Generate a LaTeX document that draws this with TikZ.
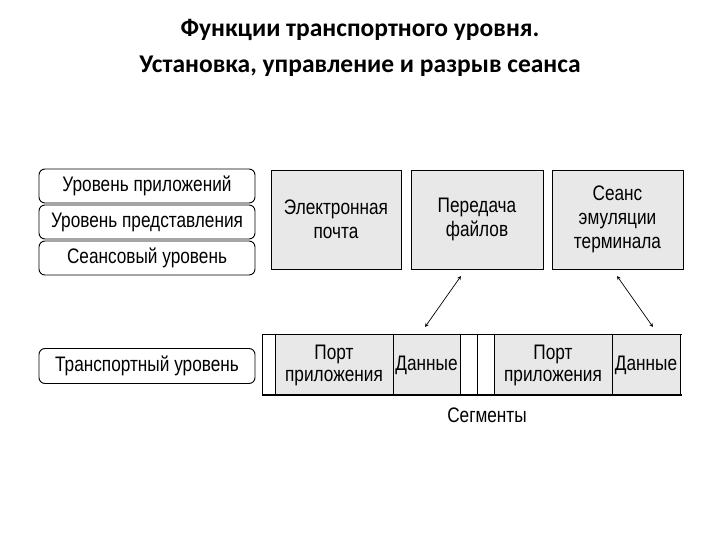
\documentclass[tikz,border=0pt]{standalone}
\usepackage{fontspec}
\setmainfont{Liberation Sans}[FakeStretch=0.82]
\newfontfamily\titlefont{Carlito}
\begin{document}
\begin{tikzpicture}[x=1pt,y=-1pt,
  lay/.style={draw,rounded corners=6pt,line width=0.9pt,minimum width=216pt,font=\fontsize{21}{23}\selectfont,inner sep=0pt},
  app/.style={draw,fill=gray!18,line width=0.9pt,minimum width=130pt,minimum height=99pt,font=\fontsize{21}{24}\selectfont,align=center,inner sep=0pt},
  cell/.style={font=\fontsize{21}{22}\selectfont,align=center,inner sep=0pt},
  arr/.style={<->,>=stealth,line width=0.7pt}]
\useasboundingbox (0,0) rectangle (720,540);
\node[font=\titlefont\bfseries\fontsize{25.5}{28}\selectfont] (t1) at (360,30) {Функции транспортного уровня.};
\node[font=\titlefont\bfseries\fontsize{25.5}{28}\selectfont] (t2) at (360,66) {Установка, управление и разрыв сеанса};
\node[lay,minimum height=34pt] (l1) at (147,186) {Уровень приложений};
\node[lay,minimum height=34pt] (l2) at (147,222) {Уровень представления};
\node[lay,minimum height=34pt] (l3) at (147,258) {Сеансовый уровень};
\node[lay,minimum height=35pt] (l4) at (147,366) {Транспортный уровень};
\node[app] (a1) at (336,219.5) {Электронная\\почта};
\node[app,minimum width=132pt] (a2) at (477,219.5) {Передача\\файлов};
\node[app,minimum width=131pt] (a3) at (617.5,219.5) {Сеанс\\эмуляции\\терминала};
\fill[gray!18] (275,334) rectangle (460,395);
\fill[gray!18] (494,334) rectangle (680,395);
\draw[line width=0.8pt] (262,334) -- (682,334);
\draw[line width=1.8pt] (262,395) -- (682,395);
\foreach \x in {262,275,393,460,477,494,612,680} \draw[line width=0.8pt] (\x,334) -- (\x,395);
\node[cell] (p1) at (334,365) {Порт\\приложения};
\node[cell] (d1) at (426.5,365) {Данные};
\node[cell] (p2) at (553,365) {Порт\\приложения};
\node[cell] (d2) at (646,365) {Данные};
\coordinate (e1) at (425,327);
\coordinate (e2) at (653,327);
\draw[arr] (461,276) -- (e1);
\draw[arr] (617,276) -- (e2);
\node[cell] (seg) at (487,415) {Сегменты};
\end{tikzpicture}
\end{document}
